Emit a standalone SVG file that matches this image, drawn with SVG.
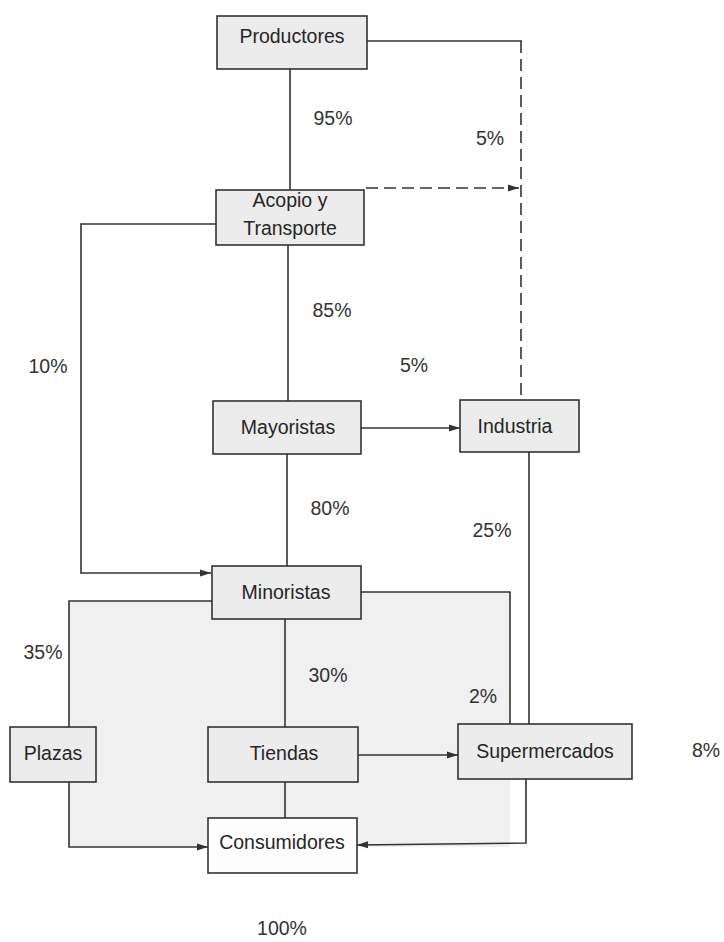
<svg xmlns="http://www.w3.org/2000/svg" width="724" height="942" viewBox="0 0 724 942">
<style>
.box{fill:#ececec;stroke:#333;stroke-width:1.6}
.wbox{fill:#fdfdfd;stroke:#333;stroke-width:1.6}
.t{font-family:"Liberation Sans",Arial,sans-serif;font-size:19.5px;fill:#262626;text-anchor:middle}
.l{font-family:"Liberation Sans",Arial,sans-serif;font-size:19.5px;fill:#333;text-anchor:middle}
.c{fill:none;stroke:#333;stroke-width:1.6}
.d{fill:none;stroke:#333;stroke-width:1.6;stroke-dasharray:12 6}
</style>
<defs>
<marker id="ah" markerUnits="userSpaceOnUse" markerWidth="12" markerHeight="8" refX="11" refY="4" orient="auto">
<path d="M0,0.5 L11,4 L0,7.5 Z" fill="#333"/>
</marker>
</defs>
<rect width="724" height="942" fill="#ffffff"/>
<polygon points="69,601 212,601 212,592 510,592 510,847 69,847" fill="#f0f0f0"/>
<g id="connectors">
<line class="c" x1="290" y1="69" x2="290" y2="190"/>
<polyline class="c" points="367,41 522,41"/>
<line class="d" x1="521" y1="41" x2="521" y2="400"/>
<line class="d" x1="366" y1="188" x2="519" y2="188" marker-end="url(#ah)"/>
<line class="c" x1="288" y1="245" x2="288" y2="401"/>
<polyline class="c" points="216,224 81,224 81,573 211,573" marker-end="url(#ah)"/>
<line class="c" x1="361" y1="428" x2="460" y2="428" marker-end="url(#ah)"/>
<line class="c" x1="287" y1="454" x2="287" y2="566"/>
<line class="c" x1="529" y1="452" x2="529" y2="724"/>
<polyline class="c" points="212,601 69,601 69,727"/>
<polyline class="c" points="69,782 69,847 208,847" marker-end="url(#ah)"/>
<polyline class="c" points="361,592 510,592 510,724"/>
<line class="c" x1="285" y1="619" x2="285" y2="727"/>
<line class="c" x1="358" y1="755" x2="458" y2="755" marker-end="url(#ah)"/>
<line class="c" x1="285" y1="782" x2="285" y2="818"/>
<polyline class="c" points="526,779 526,843 357,845" marker-end="url(#ah)"/>
</g>
<g id="productores"><rect class="box" x="217" y="16" width="150" height="53"/><text class="t" x="292" y="43">Productores</text></g>
<g id="acopio"><rect class="box" x="216" y="190" width="148" height="55"/><text class="t" x="290" y="207">Acopio y</text><text class="t" x="290" y="235">Transporte</text></g>
<g id="mayoristas"><rect class="box" x="213" y="401" width="148" height="53"/><text class="t" x="288" y="434">Mayoristas</text></g>
<g id="industria"><rect class="box" x="460" y="400" width="119" height="52"/><text class="t" x="515" y="433">Industria</text></g>
<g id="minoristas"><rect class="box" x="212" y="566" width="149" height="53"/><text class="t" x="286" y="599">Minoristas</text></g>
<g id="plazas"><rect class="box" x="10" y="727" width="86" height="55"/><text class="t" x="53" y="760">Plazas</text></g>
<g id="tiendas"><rect class="box" x="208" y="727" width="150" height="55"/><text class="t" x="284" y="760">Tiendas</text></g>
<g id="supermercados"><rect class="box" x="458" y="724" width="174" height="55"/><text class="t" x="545" y="758">Supermercados</text></g>
<g id="consumidores"><rect class="wbox" x="208" y="818" width="149" height="55"/><text class="t" x="282" y="849">Consumidores</text></g>
<g id="labels">
<text class="l" x="333" y="125">95%</text>
<text class="l" x="490" y="145">5%</text>
<text class="l" x="332" y="317">85%</text>
<text class="l" x="48" y="373">10%</text>
<text class="l" x="414" y="372">5%</text>
<text class="l" x="330" y="515">80%</text>
<text class="l" x="492" y="537">25%</text>
<text class="l" x="43" y="659">35%</text>
<text class="l" x="328" y="682">30%</text>
<text class="l" x="483" y="703">2%</text>
<text class="l" x="706" y="757">8%</text>
<text class="l" x="282" y="935">100%</text>
</g>
</svg>
